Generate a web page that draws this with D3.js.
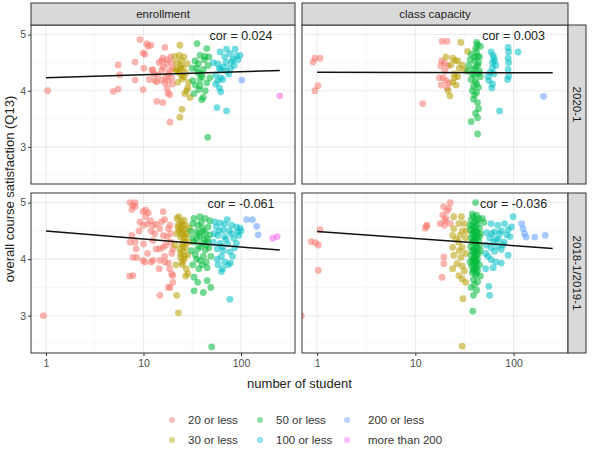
<!DOCTYPE html>
<html><head><meta charset="utf-8">
<script src="https://cdn.jsdelivr.net/npm/d3@7/dist/d3.min.js"></script>
<style>
body{margin:0;background:#fff;}
text{font-family:"Liberation Sans",Arial,sans-serif;}
</style>
</head><body>
<svg id="chart" width="593" height="450"></svg>
<script>
// ---------------- data ----------------
const columns = ["enrollment", "class capacity"];
const rows = ["2020-1", "2018-1/2019-1"];
const groups = ["20 or less", "30 or less", "50 or less", "100 or less", "200 or less", "more than 200"];
const groupLimits = [20, 30, 50, 100, 200, Infinity];
const xTicks = [1, 10, 100];
const xMinorTicks = [3.162, 31.62, 316.2];
const yTicks = [3, 4, 5];
const yMinorTicks = [2.5, 3.5, 4.5];
const corLabels = ["cor = 0.024", "cor = 0.003", "cor = -0.061", "cor = -0.036"];
const fitX = [1, 250];
const fitStartY = [4.23, 4.33, 4.50, 4.49];
const fitEndY = [4.36, 4.32, 4.16, 4.19];

// enrollment, 2020-1  [students, satisfaction]
const enroll2020 = [
[1.04,4.0],[4.9,3.99],[5.5,4.03],[5.5,4.46],[5.7,4.28],[8.2,4.51],[8.2,4.19],[9.2,4.91],[9.9,4.67],[9.9,4.02],
[10.8,4.84],[11.1,4.79],[11.9,4.81],[10.3,4.65],[10.1,4.40],[12.5,4.37],[13.7,4.16],[13.7,3.81],[15.8,3.79],[16.6,4.77],
[15.8,4.58],[15.4,4.53],[17.4,4.55],[12.2,4.37],[15.4,4.37],[17.4,4.48],[18.6,4.36],[13.1,4.18],[15.4,4.19],[16.6,4.14],
[17.8,4.18],[19.5,4.23],[17.4,4.05],[17.8,3.96],[18.6,3.93],[18.7,3.44],[12.8,4.30],[14.0,4.28],[19.0,4.60],[19.5,4.50],
[16.0,4.42],[18.0,4.30],[14.5,4.50],[19.8,4.12],[11.5,4.20],[20,4.40],[17,4.25],
[23.6,4.81],[21,4.61],[23.3,4.63],[24.4,4.54],[22,4.50],[24,4.45],[25.5,4.40],[23,4.33],[24.5,4.27],[26,4.25],
[27,4.32],[25,4.21],[28.5,4.05],[27.7,4.00],[30,3.88],[24.8,3.67],[23.6,3.53],[26,4.60],[28,4.48],[21.5,4.38],
[22.5,4.15],[29,4.15],[26.5,3.95],[22,4.35],[24,4.40],
[35.4,4.84],[44.6,4.75],[42.7,4.61],[38,4.63],[33.8,4.53],[31.5,4.40],[36,4.32],[41,4.38],[39,4.30],[32,4.18],
[38,4.09],[37,4.02],[41,3.88],[39.5,3.84],[45.6,3.17],[48,4.23],[44.6,4.14],[46,4.45],[34,4.10],[42,4.55],
[47,4.60],[33,3.95],[40,4.25],[36.5,4.48],[43,4.00],[35,4.40],[38,4.20],
[61,4.69],[71,4.74],[77,4.66],[87,4.74],[83,4.56],[93,4.55],[98,4.63],[58,4.48],[62,4.37],[66,4.42],
[71,4.35],[78,4.40],[85,4.45],[55,4.28],[58,4.18],[62,4.23],[60,4.05],[62,3.98],[56.7,3.70],[71,3.64],
[52,4.50],[68,4.60],[75,4.30],[90,4.62],[55,4.12],[65,4.20],[80,4.52],[60,4.40],[70,4.50],
[102,4.19],[250,3.91]
];

// class capacity, 2020-1  [capacity, satisfaction, group]
const capacity2020 = [
[0.95,4.58,0],[1.07,4.58,0],[0.91,4.51,0],[1.02,4.09,0],[0.95,4.00,0],[11.9,3.77,0],[18.7,4.88,0],[21,4.88,0],[18.5,4.53,0],[19.8,4.49,0],
[18.2,4.44,0],[21.5,4.44,0],[17.6,4.23,0],[19.2,4.23,0],[20.5,4.18,0],[22,4.14,0],[18.3,4.10,0],[21,4.05,0],[20,4.35,0],
[29,4.86,1],[20.5,4.60,1],[24,4.58,1],[25.5,4.54,1],[23,4.46,1],[27,4.53,1],[30,4.46,1],[34,4.70,1],[25,4.30,1],[27,4.25,1],
[21.5,4.00,1],[22.5,3.91,1],[26,4.10,1],[25,4.23,1],[32,4.37,1],[28,4.40,1],[24,4.15,1],
[43,4.82,2],[46,4.79,2],[41,4.75,2],[37,4.65,2],[43,4.62,2],[40,4.53,2],[44,4.50,2],[35,4.45,2],[43,4.45,2],[34,4.35,2],
[39,4.38,2],[45,4.35,2],[37,4.20,2],[41,4.17,2],[39,4.08,2],[44,4.06,2],[38,4.00,2],[42,3.97,2],[39,3.85,2],[43,3.79,2],
[44,3.68,2],[41,3.60,2],[37,3.45,2],[43,3.52,2],[43,3.23,2],[40,4.28,2],[36,4.55,2],[46,4.25,2],[42,4.70,2],[42,4.86,2],
[40,4.60,2],[41,4.42,2],[38,4.30,2],[44,4.30,2],[42,4.12,2],[40,3.92,2],[45,4.60,2],
[59,4.69,3],[62,4.63,3],[63,4.58,3],[61,4.50,3],[64,4.53,3],[61,4.40,3],[58,4.33,3],[63,4.30,3],[56,4.18,3],[61,4.12,3],
[60,4.05,3],[88,4.77,3],[89,4.69,3],[88,4.58,3],[89,4.50,3],[88,4.38,3],[89,4.26,3],[87,4.20,3],[111,4.69,3],[72,3.64,3],
[55,4.25,3],[66,4.45,3],
[202,3.90,4]
];

// enrollment, 2018-1/2019-1
const enroll2018 = [
[0.94,3.0],[7.3,5.0],[7.8,4.95],[8.2,5.0],[7.6,4.88],[7.8,3.71],[7.8,4.03],[8.2,4.30],[7.6,4.42],[9.9,3.98],
[10.3,3.95],[12,3.95],[14.7,3.36],[18.7,3.50],[20,3.71],
[8.2,4.93],[9.9,4.84],[10.5,4.87],[11.2,4.82],[9.2,4.66],[9.9,4.60],[11,4.62],[11.8,4.68],[12.6,4.60],[13.5,4.62],
[14.7,4.54],[15.9,4.84],[16.5,4.70],[15.3,4.66],[18.7,4.60],[18,4.54],
[7.3,4.30],[8.4,4.18],[10,4.27],[12.5,4.33],[13.5,4.18],[15.9,4.21],[14.7,4.18],[19,4.30],[20,4.18],[19.5,4.10],
[16,4.42],[17.5,4.40],
[8.5,4.03],[12.5,3.98],[14.7,3.98],[16.6,3.95],[18,3.93],[14.5,3.83],[18.5,3.83],[19.5,3.74],[7.2,3.70],[18,3.50],[20,3.59],
[10.5,4.75],[12,4.50],[13,4.45],[9,4.50],[11,4.10],[16.5,4.05],[17,4.25],[19,4.45],
[22,4.72],[23,4.75],[24.5,4.66],[26,4.69],[22.5,4.57],[24,4.54],[25.5,4.48],[22,4.45],[24,4.39],[26,4.37],
[25,4.27],[23.5,4.18],[25.5,4.13],[24,4.03],[25,3.95],[27.5,3.83],[28.5,3.74],[27,3.70],[21.9,3.36],[22.8,3.05],
[27,4.60],[28,4.45],[29,4.30],[27,4.20],[28.5,4.08],[21,4.25],[23,4.50],[29.5,4.55],[26.5,4.05],[21.5,3.90],
[25,4.60],[26,4.52],[24.5,4.45],[26.5,4.30],[25.5,4.22],[24,4.10],[26,4.00],[25,3.90],[27,4.40],[23,4.62],
[33,4.72],[38,4.75],[43,4.72],[48,4.68],[32,4.63],[40,4.55],[46,4.57],[35,4.48],[43,4.46],[48,4.43],
[32,4.38],[38,4.40],[45,4.36],[33,4.30],[40,4.28],[46,4.30],[36,4.18],[43,4.16],[34,4.08],[41,4.05],
[38,3.98],[32,3.90],[37,3.83],[45,3.85],[33,3.68],[36,3.59],[45,3.62],[33,3.44],[41,3.41],[49,3.50],
[50,2.45],[30.5,4.50],[39,4.65],[47,4.20],[35,4.00],[42,4.35],[31,4.15],[44,3.95],[37,4.45],[49,4.05],
[36,4.60],[41,4.50],[38,4.22],[44,4.25],[40,3.90],[35,4.35],
[54,4.66],[61,4.64],[68,4.62],[80,4.60],[90,4.57],[98,4.55],[56,4.57],[66,4.52],[76,4.50],[92,4.48],
[58,4.42],[68,4.40],[84,4.37],[95,4.42],[52,4.30],[61,4.28],[73,4.27],[90,4.28],[57,4.18],[66,4.15],
[77,4.13],[63,4.05],[68,3.95],[78,3.93],[58,3.90],[65,3.83],[74,3.90],[63,3.78],[77,3.29],[86,4.20],
[53,4.45],[72,4.70],[100,4.50],[82,4.05],[60,4.50],[70,4.35],[64,4.22],[80,4.45],[57,4.00],
[114,4.70],[131,4.70],[145,4.58],[150,4.43],
[212,4.37],[235,4.40]
];

// class capacity, 2018-1/2019-1
const capacity2018 = [
[0.69,3.00,0],[1.07,4.52,0],[0.87,4.31,0],[0.96,4.29,0],[1.03,4.25,0],[1.03,3.80,0],[13,4.58,0],[12.6,4.55,0],[19.5,4.04,0],[19.5,3.92,0],
[18.7,3.68,0],[19.4,4.93,0],[21.9,4.90,0],[22.7,5.00,0],[19,4.78,0],[20.5,4.72,0],[17.9,4.63,0],[19.8,4.60,0],[22.7,4.63,0],[13.1,4.60,0],
[21,4.85,0],[20,4.68,0],
[24.6,4.75,1],[29.4,4.75,1],[27.7,4.63,1],[31.5,4.63,1],[24.6,4.54,1],[30,4.50,1],[28.5,4.42,1],[24,4.42,1],[32.5,4.38,1],[27.7,4.30,1],
[24,4.21,1],[30,4.21,1],[24.6,4.07,1],[29,4.03,1],[32.5,4.10,1],[26.5,3.92,1],[30,3.88,1],[24,3.83,1],[31.5,3.79,1],[27.7,3.71,1],
[30,3.65,1],[32.5,3.59,1],[30.5,3.30,1],[30,2.46,1],[26,4.35,1],[33,4.50,1],[28,4.15,1],
[41,5.00,2],[38,4.80,2],[42,4.78,2],[44,4.72,2],[37,4.70,2],[40,4.66,2],[43,4.63,2],[38,4.60,2],[41,4.57,2],[45,4.55,2],
[36.5,4.52,2],[40,4.50,2],[43,4.47,2],[38,4.44,2],[41.5,4.42,2],[45,4.40,2],[37,4.37,2],[40,4.35,2],[44,4.33,2],[38,4.30,2],
[42,4.28,2],[45.5,4.25,2],[36.5,4.22,2],[40,4.20,2],[43,4.18,2],[38,4.14,2],[41,4.12,2],[44,4.10,2],[37,4.06,2],[40,4.03,2],
[43,4.00,2],[38,3.97,2],[41,3.93,2],[45,3.90,2],[37.5,3.87,2],[40,3.83,2],[43,3.80,2],[38,3.76,2],[41,3.72,2],[46,3.70,2],
[39,3.64,2],[43,3.60,2],[40,3.55,2],[37,3.50,2],[42,3.45,2],[39,3.36,2],[38.5,3.08,2],[48,4.72,2],[50,4.65,2],[46,4.45,2],
[36,4.60,2],[46,4.15,2],[36,3.95,2],
[39,4.75,2],[42,4.68,2],[39,4.55,2],[42,4.50,2],[39,4.47,2],[42,4.38,2],[39,4.33,2],[42,4.22,2],[39,4.17,2],[42,4.08,2],
[39,4.00,2],[42,3.95,2],[39,3.90,2],[42,3.85,2],[39,3.80,2],[42,3.75,2],[40,4.40,2],[41,4.30,2],[40,4.10,2],[41,3.98,2],
[59,4.63,3],[69,4.60,3],[81,4.63,3],[75,4.50,3],[88,4.52,3],[95,4.57,3],[64,4.48,3],[53,4.47,3],[72,4.45,3],[85,4.43,3],
[62,4.30,3],[53,4.25,3],[69,4.23,3],[59,4.20,3],[75,4.17,3],[64,4.14,3],[52,4.10,3],[88,4.07,3],[59,3.99,3],[66,3.95,3],
[52,3.83,3],[56,3.52,3],[99,4.75,3],[70,4.35,3],[80,4.30,3],[57,4.38,3],[92,4.40,3],[57,3.36,3],[75,3.93,3],
[60,4.45,3],[66,4.35,3],[55,4.05,3],[78,4.25,3],[62,3.85,3],
[121,4.63,4],[125,4.54,4],[129,4.45,4],[134,4.39,4],[164,4.39,4],[210,4.42,4]
];

const palette = ["#F8766D", "#B79F00", "#00BA38", "#00BFC4", "#619CFF", "#F564E3"];

// ---------------- layout ----------------
const panelX = [[31, 295], [302, 568]];
const panelY = [[25, 184], [193, 353]];
const stripTop = 3, stripRight = 586;

function groupOf(v) { return groupLimits.findIndex(l => v <= l); }
const panelData = [
  enroll2020.map(d => ({x: d[0], y: d[1], g: groupOf(d[0])})),
  capacity2020.map(d => ({x: d[0], y: d[1], g: d[2]})),
  enroll2018.map(d => ({x: d[0], y: d[1], g: groupOf(d[0])})),
  capacity2018.map(d => ({x: d[0], y: d[1], g: d[2]}))
];

const svg = d3.select("#chart");
svg.append("rect").attr("width", 593).attr("height", 450).attr("fill", "#fff");
const defs = svg.append("defs");

const xDomain = [0.702, 358];
const yDomain = [2.34, 5.17];

rows.forEach((rowName, r) => {
  columns.forEach((colName, c) => {
    const k = r * 2 + c;
    const [x0, x1] = panelX[c];
    const [y0, y1] = panelY[r];
    const x = d3.scaleLog().domain(xDomain).range([x0, x1]);
    const y = d3.scaleLinear().domain(yDomain).range([y1, y0]);

    defs.append("clipPath").attr("id", "clip" + k)
      .append("rect").attr("x", x0).attr("y", y0).attr("width", x1 - x0).attr("height", y1 - y0);

    const g = svg.append("g");
    g.append("rect").attr("x", x0).attr("y", y0).attr("width", x1 - x0).attr("height", y1 - y0).attr("fill", "#fff");

    // grid
    g.selectAll(".vminor").data(xMinorTicks.filter(v => v > xDomain[0] && v < xDomain[1])).join("line")
      .attr("x1", d => x(d)).attr("x2", d => x(d)).attr("y1", y0).attr("y2", y1)
      .attr("stroke", "#F2F2F2").attr("stroke-width", 0.6);
    g.selectAll(".hminor").data(yMinorTicks).join("line")
      .attr("y1", d => y(d)).attr("y2", d => y(d)).attr("x1", x0).attr("x2", x1)
      .attr("stroke", "#F2F2F2").attr("stroke-width", 0.6);
    g.selectAll(".vmajor").data(xTicks).join("line")
      .attr("x1", d => x(d)).attr("x2", d => x(d)).attr("y1", y0).attr("y2", y1)
      .attr("stroke", "#EBEBEB").attr("stroke-width", 1.1);
    g.selectAll(".hmajor").data(yTicks).join("line")
      .attr("y1", d => y(d)).attr("y2", d => y(d)).attr("x1", x0).attr("x2", x1)
      .attr("stroke", "#EBEBEB").attr("stroke-width", 1.1);

    // points
    g.append("g").attr("clip-path", `url(#clip${k})`)
      .selectAll("circle").data(panelData[k]).join("circle")
      .attr("cx", d => x(d.x)).attr("cy", d => y(d.y)).attr("r", 3.4)
      .attr("fill", d => palette[d.g]).attr("fill-opacity", 0.55);

    // fit line
    const line = d3.line().x(d => x(d[0])).y(d => y(d[1]));
    g.append("path").datum([[fitX[0], fitStartY[k]], [fitX[1], fitEndY[k]]])
      .attr("d", line).attr("fill", "none").attr("stroke", "#111").attr("stroke-width", 1.5);

    // correlation label
    g.append("text").attr("x", x(100)).attr("y", y(5) + 5.5)
      .attr("text-anchor", "middle").attr("font-size", 12.5).attr("fill", "#222")
      .text(corLabels[k]);

    // border
    g.append("rect").attr("x", x0).attr("y", y0).attr("width", x1 - x0).attr("height", y1 - y0)
      .attr("fill", "none").attr("stroke", "#333").attr("stroke-width", 1);

    // axes
    if (c === 0) {
      const ay = g.append("g").attr("transform", `translate(${x0},0)`)
        .call(d3.axisLeft(y).tickValues(yTicks).tickSize(3).tickPadding(2).tickFormat(d3.format("d")));
      ay.select(".domain").remove();
      ay.selectAll("line").attr("stroke", "#333");
      ay.selectAll("text").attr("font-size", 10.5).attr("fill", "#4D4D4D")
        .attr("font-family", "Liberation Sans, Arial, sans-serif");
    }
    if (r === 1) {
      const ax = g.append("g").attr("transform", `translate(0,${y1})`)
        .call(d3.axisBottom(x).tickValues(xTicks).tickSize(3).tickPadding(4).tickFormat(d3.format("d")));
      ax.select(".domain").remove();
      ax.selectAll("line").attr("stroke", "#333");
      ax.selectAll("text").attr("font-size", 10.5).attr("fill", "#4D4D4D")
        .attr("font-family", "Liberation Sans, Arial, sans-serif");
    }

    // strips
    if (r === 0) {
      g.append("rect").attr("x", x0).attr("y", stripTop).attr("width", x1 - x0).attr("height", y0 - stripTop)
        .attr("fill", "#D9D9D9").attr("stroke", "#333").attr("stroke-width", 1);
      g.append("text").attr("x", (x0 + x1) / 2).attr("y", (stripTop + y0) / 2)
        .attr("dy", "0.35em").attr("text-anchor", "middle").attr("font-size", 11.5).attr("fill", "#1A1A1A")
        .text(colName);
    }
    if (c === 1) {
      g.append("rect").attr("x", x1).attr("y", y0).attr("width", stripRight - x1).attr("height", y1 - y0)
        .attr("fill", "#D9D9D9").attr("stroke", "#333").attr("stroke-width", 1);
      g.append("text").attr("transform", `translate(${(x1 + stripRight) / 2},${(y0 + y1) / 2}) rotate(90)`)
        .attr("dy", "0.35em").attr("text-anchor", "middle").attr("font-size", 11.5).attr("fill", "#1A1A1A")
        .text(rowName);
    }
  });
});

// axis titles
svg.append("text").attr("x", (panelX[0][0] + panelX[1][1]) / 2).attr("y", 388)
  .attr("text-anchor", "middle").attr("font-size", 13).attr("fill", "#222").text("number of student");
svg.append("text").attr("transform", `translate(14,${(panelY[0][0] + panelY[1][1]) / 2}) rotate(-90)`)
  .attr("text-anchor", "middle").attr("font-size", 13).attr("fill", "#222").text("overall course satisfaction (Q13)");

// legend
const legendKeyX = [172, 260, 347];
const legendTextX = [188, 276, 368];
const legendRowY = [420, 440];
const leg = svg.append("g");
groups.forEach((name, i) => {
  const col = Math.floor(i / 2), row = i % 2;
  leg.append("circle").attr("cx", legendKeyX[col]).attr("cy", legendRowY[row]).attr("r", 3)
    .attr("fill", palette[i]).attr("fill-opacity", 0.45);
  leg.append("text").attr("x", legendTextX[col]).attr("y", legendRowY[row]).attr("dy", "0.35em")
    .attr("font-size", 11.5).attr("fill", "#333").text(name);
});
</script>
</body></html>
